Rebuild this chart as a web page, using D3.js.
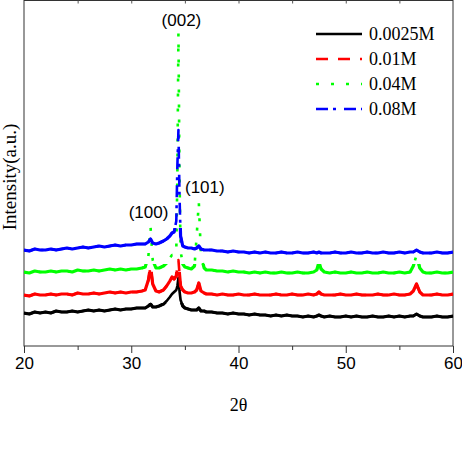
<!DOCTYPE html>
<html lang="en">
<head>
    <meta charset="UTF-8">
    <script src="https://d3js.org/d3.v7.min.js"></script>
    <title>XRD</title>
    <style>
        body { margin: 0; background: #fff; }
    </style>
</head>
<body>
    <svg id="xrd" height="468" width="462"></svg>

    <script>
        // 2theta positions (denser around the peaks)
        const twoTheta = [
            20,20.5,21,21.5,22,22.5,23,23.5,24,24.5,25,25.5,26,26.5,27,27.5,28,28.5,29,29.5,30,30.5,31,
            31.3,31.6,31.8,32.0,32.3,32.6,33.0,33.3,33.6,33.8,34.0,34.2,34.3,34.4,34.5,34.6,34.8,35.0,35.3,35.6,35.9,36.1,36.3,36.5,36.8,37.0,
            37.5,38,38.5,39,39.5,40,40.5,41,41.5,42,42.5,43,43.5,44,44.5,45,45.5,46,46.5,47,
            47.3,47.5,47.7,48,
            48.5,49,49.5,50,50.5,51,51.5,52,52.5,53,53.5,54,54.5,55,55.5,56,
            56.3,56.6,56.9,57.2,57.5,
            58,58.5,59,59.5,60
        ];

        // intensity (a.u., curves already stacked)
        const i0025 = [
            33,32,34,33,34,33,35,34,34,35,34,35,36,35,36,35,36,37,36,37,37,38,38,
            38,40,42,39,39,40,42,45,49,52,54,56,60,68,55,46,40,38,37,36,36,36,38,35,35,34,
            34,33,33,32,33,32,32,31,32,31,31,30,31,30,31,30,30,29,30,29,
            30,31,30,29,
            30,29,29,30,29,30,29,29,30,29,29,30,29,30,29,30,
            30,32,30,29,29,
            29,30,29,29,30
        ];
        const i001 = [
            51,50,52,51,51,52,51,52,52,51,53,52,52,53,52,53,54,53,54,53,54,54,55,
            56,66,80,62,55,54,56,60,65,69,67,70,80,86,72,60,56,54,53,53,54,56,63,55,53,52,
            52,51,52,51,51,52,51,51,52,51,51,51,52,51,51,52,51,51,52,51,
            52,54,52,51,
            51,51,52,51,51,52,51,51,51,52,51,51,52,51,51,52,
            55,62,54,51,51,
            51,52,51,51,52
        ];
        const i004 = [
            74,73,75,74,74,75,74,75,75,74,76,75,75,76,75,76,77,76,77,76,77,77,78,
            79,90,119,86,78,78,80,83,88,91,90,95,170,313,170,95,82,79,78,77,80,110,144,90,78,76,
            76,75,75,74,75,74,74,73,74,73,74,73,73,74,73,73,74,73,73,74,
            76,84,77,74,
            73,74,73,73,74,73,73,74,73,73,74,73,73,74,73,74,
            80,91,78,74,73,
            73,74,73,73,74
        ];
        const i008 = [
            96,95,97,96,96,97,96,97,98,97,98,99,98,99,100,99,100,101,100,101,101,102,102,
            102,104,107,103,102,103,105,107,110,113,114,125,180,216,150,110,100,99,98,98,97,98,100,97,96,96,
            96,95,95,94,95,94,94,93,94,93,94,93,93,94,93,93,94,93,93,94,
            93,94,93,93,
            93,94,93,93,94,93,93,94,93,93,94,93,93,94,93,94,
            94,96,94,93,93,
            93,94,93,93,94
        ];

        const seriesNames = ["0.0025M", "0.01M", "0.04M", "0.08M"];
        const seriesValues = [i0025, i001, i004, i008];
        const xTicks = [20, 30, 40, 50, 60];
        const peakLabels = ["(002)", "(101)", "(100)"];
        const peakPos = [34.4, 36.3, 31.8];

        const colors = ["#000000", "#ff0000", "#00ff00", "#0000ff"];
        const dashes = [null, "12,10", "3,12", "12,5,3,8"];
        // how far above the baseline the noisy trace still reads as solid
        const solidBand = [10, 22, 7, 22];

        const svg = d3.select("svg#xrd");
        const margin = {top: 0.5, left: 24, right: 9, bottom: 122};
        const width = +svg.attr("width");
        const height = +svg.attr("height");
        const chartWidth = width - margin.left - margin.right;
        const chartHeight = height - margin.top - margin.bottom;

        const xScale = d3.scaleLinear().domain([20, 60]).range([0, chartWidth]);
        const yScale = d3.scaleLinear().domain([0, 345.5]).range([chartHeight, 0]);

        let defs = svg.append("defs");
        let chartArea = svg.append("g")
            .attr("transform", "translate(" + margin.left + "," + margin.top + ")");

        // frame
        chartArea.append("rect")
            .attr("width", chartWidth).attr("height", chartHeight)
            .attr("fill", "none").attr("stroke", "#333").attr("stroke-width", 1);

        // bottom axis, major + minor
        let bottomAxis = d3.axisBottom(xScale).tickValues(xTicks).tickSize(7).tickPadding(4);
        let xAxisG = chartArea.append("g")
            .attr("transform", "translate(0," + chartHeight + ")")
            .call(bottomAxis);
        xAxisG.select(".domain").remove();
        xAxisG.selectAll("text")
            .attr("font-family", "Liberation Sans, Arial, sans-serif")
            .attr("font-size", 17).attr("fill", "#000");
        xAxisG.selectAll("line").attr("stroke", "#333");

        let minorAxis = d3.axisBottom(xScale).tickValues([25, 35, 45, 55]).tickSize(4).tickFormat("");
        let minorG = chartArea.append("g")
            .attr("transform", "translate(0," + chartHeight + ")")
            .call(minorAxis);
        minorG.select(".domain").remove();
        minorG.selectAll("line").attr("stroke", "#333");

        let topAxis = d3.axisBottom(xScale).tickValues(d3.range(25, 60, 5)).tickSize(3).tickFormat("");
        let topG = chartArea.append("g").call(topAxis);
        topG.select(".domain").remove();
        topG.selectAll("line").attr("stroke", "#555");

        // traces
        let lineGen = d3.line()
            .x((d, i) => xScale(twoTheta[i]))
            .y(d => yScale(d));

        seriesValues.forEach((vals, k) => {
            let lo = d3.min(vals) - 4, hi = d3.median(vals) + solidBand[k];
            defs.append("clipPath").attr("id", "band" + k)
                .append("rect")
                .attr("x", 0).attr("width", chartWidth)
                .attr("y", yScale(hi)).attr("height", yScale(lo) - yScale(hi));

            chartArea.append("path")
                .datum(vals)
                .attr("fill", "none")
                .attr("stroke", colors[k])
                .attr("stroke-width", 2.6)
                .attr("stroke-linejoin", "round")
                .attr("stroke-dasharray", dashes[k])
                .attr("d", lineGen);

            chartArea.append("path")
                .datum(vals)
                .attr("clip-path", "url(#band" + k + ")")
                .attr("fill", "none")
                .attr("stroke", colors[k])
                .attr("stroke-width", 3.2)
                .attr("stroke-linejoin", "round")
                .attr("d", lineGen);
        });

        // peak labels
        const labelY = [25, 192, 217];
        const labelDx = [3, 6, -2];
        peakLabels.forEach((t, k) => {
            chartArea.append("text")
                .attr("x", xScale(peakPos[k]) + labelDx[k])
                .attr("y", labelY[k])
                .attr("text-anchor", "middle")
                .attr("font-family", "Liberation Sans, Arial, sans-serif")
                .attr("font-size", 17)
                .text(t);
        });

        // legend
        let legend = svg.append("g").attr("transform", "translate(316,34)");
        seriesNames.forEach((name, k) => {
            let row = legend.append("g").attr("transform", "translate(0," + (k * 25) + ")");
            row.append("line")
                .attr("x1", 0).attr("x2", 46)
                .attr("stroke", colors[k]).attr("stroke-width", 2.4)
                .attr("stroke-dasharray", dashes[k]);
            row.append("text")
                .attr("x", 53).attr("y", 6)
                .attr("font-family", "Liberation Serif, Times New Roman, serif")
                .attr("font-size", 18)
                .text(name);
        });

        // axis titles
        svg.append("text")
            .attr("x", margin.left + xScale(40)).attr("y", 411)
            .attr("text-anchor", "middle")
            .attr("font-family", "Liberation Serif, Times New Roman, serif")
            .attr("font-size", 18)
            .text("2θ");

        svg.append("text")
            .attr("transform", "translate(16,177) rotate(-90)")
            .attr("text-anchor", "middle")
            .attr("font-family", "Liberation Serif, Times New Roman, serif")
            .attr("font-size", 19)
            .text("Intensity(a.u.)");
    </script>
</body>
</html>
